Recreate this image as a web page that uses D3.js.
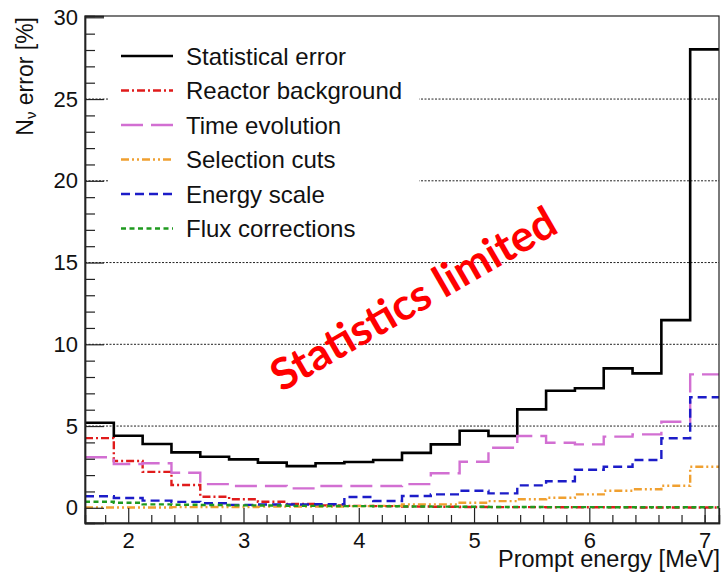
<!DOCTYPE html>
<html>
<head>
<meta charset="utf-8">
<script src="https://cdn.jsdelivr.net/npm/d3@7"></script>
<style>
  html, body { margin: 0; padding: 0; background: #fff; }
  svg { display: block; }
</style>
</head>
<body>
<svg id="chart" width="722" height="578"></svg>
<script>
// Bin edges of the prompt-energy histogram [MeV]
const binEdges = [1.625, 1.875, 2.125, 2.375, 2.625, 2.875, 3.125, 3.375, 3.625, 3.875, 4.125,
                  4.375, 4.625, 4.875, 5.125, 5.375, 5.625, 5.875, 6.125, 6.375, 6.625, 6.875, 7.125];

// Relative error on N_nu per bin [%]
const statError   = [5.20, 4.41, 3.90, 3.39, 3.12, 2.96, 2.76, 2.55, 2.72, 2.80, 2.92,
                     3.36, 3.88, 4.71, 4.39, 6.02, 7.16, 7.31, 8.53, 8.22, 11.48, 28.04];
const reactorBkg  = [4.26, 2.86, 2.20, 1.39, 0.68, 0.52, 0.37, 0.23, 0.15, 0.12, 0.10,
                     0.08, 0.06, 0.05, 0.04, 0.04, 0.03, 0.03, 0.03, 0.02, 0.02, 0.02];
const timeEvol    = [3.09, 2.68, 2.72, 2.14, 1.45, 1.33, 1.33, 1.19, 1.33, 1.33, 1.33,
                     1.45, 2.11, 2.82, 3.67, 4.39, 3.98, 3.88, 4.35, 4.49, 5.26, 8.16];
const selCuts     = [0.02, 0.02, 0.02, 0.04, 0.05, 0.05, 0.07, 0.08, 0.08, 0.10, 0.12,
                     0.21, 0.21, 0.31, 0.41, 0.52, 0.61, 0.82, 1.04, 1.13, 1.35, 2.51];
const energyScale = [0.71, 0.60, 0.44, 0.36, 0.28, 0.18, 0.20, 0.20, 0.22, 0.66, 0.42,
                     0.72, 0.82, 1.04, 0.88, 1.37, 1.62, 2.33, 2.51, 2.92, 4.25, 6.76];
const fluxCorr    = [0.37, 0.31, 0.21, 0.19, 0.17, 0.15, 0.14, 0.12, 0.11, 0.10, 0.09,
                     0.08, 0.07, 0.06, 0.05, 0.05, 0.04, 0.04, 0.03, 0.03, 0.03, 0.03];

const seriesNames = ["Statistical error", "Reactor background", "Time evolution",
                     "Selection cuts", "Energy scale", "Flux corrections"];

// Axis ticks
const xMajorTicks = [2, 3, 4, 5, 6, 7];
const xMinorTicks = [1.8, 2.2, 2.4, 2.6, 2.8, 3.2, 3.4, 3.6, 3.8, 4.2, 4.4, 4.6, 4.8,
                     5.2, 5.4, 5.6, 5.8, 6.2, 6.4, 6.6, 6.8, 7.0];
const yMajorTicks = [0, 5, 10, 15, 20, 25, 30];
const yMinorTicks = [1, 2, 3, 4, 6, 7, 8, 9, 11, 12, 13, 14, 16, 17, 18, 19,
                     21, 22, 23, 24, 26, 27, 28, 29];
const gridValues  = [5, 10, 15, 20, 25];

const xLabel = "Prompt energy [MeV]";
const overlayText = "Statistics limited";

// ---------------------------------------------------------------------------
const series = [
  { name: seriesNames[0], values: statError,   color: "#000000", width: 2.6, dash: null },
  { name: seriesNames[1], values: reactorBkg,  color: "#e01b1b", width: 2.4, dash: "8,3,2,3" },
  { name: seriesNames[2], values: timeEvol,    color: "#d26fd2", width: 2.4, dash: "22,8" },
  { name: seriesNames[3], values: selCuts,     color: "#f0a030", width: 2.4, dash: "8,3,2,3,2,3" },
  { name: seriesNames[4], values: energyScale, color: "#1c1cc8", width: 2.4, dash: "9,5" },
  { name: seriesNames[5], values: fluxCorr,    color: "#1f9a1f", width: 2.4, dash: "5,3.5" }
];

const svg = d3.select("#chart");
const plot = { left: 85, right: 719, top: 16, bottom: 523 };
const FONT = "'Liberation Sans', Arial, Helvetica, sans-serif";

const x = d3.scaleLinear().domain([1.625, 7.125]).range([plot.left, plot.right]);
const y = d3.scaleLinear().domain([-0.93, 30.08]).range([plot.bottom, plot.top]);

// Dotted horizontal grid
svg.append("g").selectAll("line").data(gridValues).join("line")
  .attr("x1", plot.left).attr("x2", plot.right)
  .attr("y1", d => y(d)).attr("y2", d => y(d))
  .attr("stroke", "#222").attr("stroke-width", 1)
  .attr("stroke-dasharray", "2,1.5");

// Step histograms
const stepLine = d3.line()
  .x(d => x(d[0])).y(d => y(d[1]))
  .curve(d3.curveStepAfter);

function histPoints(values) {
  const pts = values.map((v, i) => [binEdges[i], v]);
  pts.push([binEdges[binEdges.length - 1], values[values.length - 1]]);
  return pts;
}

svg.append("clipPath").attr("id", "plotclip")
  .append("rect").attr("x", plot.left).attr("y", plot.top)
  .attr("width", plot.right - plot.left).attr("height", plot.bottom - plot.top);

svg.append("g").attr("clip-path", "url(#plotclip)")
  .selectAll("path").data(series).join("path")
  .attr("d", s => stepLine(histPoints(s.values)))
  .attr("fill", "none")
  .attr("stroke", s => s.color)
  .attr("stroke-width", s => s.width)
  .attr("stroke-dasharray", s => s.dash)
  .attr("stroke-linejoin", "miter");

// Legend (white box, no border)
const legend = svg.append("g");
legend.append("rect")
  .attr("x", 108).attr("y", 24).attr("width", 311).attr("height", 226)
  .attr("fill", "#fff");
const rowY0 = 56, rowStep = 34.5;
const rows = legend.selectAll("g.row").data(series).join("g")
  .attr("class", "row")
  .attr("transform", (d, i) => `translate(0,${rowY0 + i * rowStep})`);
rows.append("line")
  .attr("x1", 121).attr("x2", 173).attr("y1", 0).attr("y2", 0)
  .attr("stroke", d => d.color)
  .attr("stroke-width", d => d.width)
  .attr("stroke-dasharray", d => d.dash);
rows.append("text")
  .attr("x", 186).attr("y", 8.6)
  .attr("font-family", FONT).attr("font-size", 24).attr("fill", "#111")
  .text(d => d.name);

// Frame
svg.append("rect")
  .attr("x", plot.left).attr("y", plot.top)
  .attr("width", plot.right - plot.left).attr("height", plot.bottom - plot.top)
  .attr("fill", "none").attr("stroke", "#222").attr("stroke-width", 1.2);

// Axes with inward ticks
const xAxisG = svg.append("g").attr("transform", `translate(0,${plot.bottom})`);
xAxisG.call(d3.axisBottom(x).tickValues(xMajorTicks).tickSize(-15).tickPadding(9)
  .tickFormat(d3.format("d")));
const xMinorG = svg.append("g").attr("transform", `translate(0,${plot.bottom})`);
xMinorG.call(d3.axisBottom(x).tickValues(xMinorTicks).tickSize(-8).tickFormat(""));

const yAxisG = svg.append("g").attr("transform", `translate(${plot.left},0)`);
yAxisG.call(d3.axisLeft(y).tickValues(yMajorTicks).tickSize(-19).tickPadding(7)
  .tickFormat(d3.format("d")));
const yMinorG = svg.append("g").attr("transform", `translate(${plot.left},0)`);
yMinorG.call(d3.axisLeft(y).tickValues(yMinorTicks).tickSize(-10).tickFormat(""));

[xAxisG, xMinorG, yAxisG, yMinorG].forEach(g => {
  g.select(".domain").attr("stroke", "#222").attr("stroke-width", 1.4);
  g.selectAll(".tick line").attr("stroke", "#222").attr("stroke-width", 1.2);
  g.selectAll(".tick text").attr("font-family", FONT).attr("font-size", 22).attr("fill", "#111");
});

// Axis titles
svg.append("text")
  .attr("x", plot.right + 1).attr("y", 567)
  .attr("text-anchor", "end")
  .attr("font-family", FONT).attr("font-size", 23.5).attr("fill", "#111")
  .text(xLabel);

const yTitle = svg.append("text")
  .attr("transform", "translate(33,17) rotate(-90)")
  .attr("text-anchor", "end")
  .attr("font-family", FONT).attr("font-size", 23).attr("fill", "#111");
yTitle.append("tspan").text("N");
yTitle.append("tspan").attr("font-size", 15).attr("dy", 3).text("ν");
yTitle.append("tspan").attr("dy", -3).text(" error [%]");

// Red annotation across the plot
const note = svg.append("text")
  .attr("text-anchor", "middle")
  .attr("font-family", "Lato, 'Open Sans', sans-serif")
  .attr("font-weight", 700)
  .attr("font-size", 40)
  .attr("fill", "#ff0000")
  .attr("transform", "translate(421,312) rotate(-30)")
  .text(overlayText);
const w = note.node().getComputedTextLength();
note.attr("font-size", 40 * 322 / w);
</script>
</body>
</html>
